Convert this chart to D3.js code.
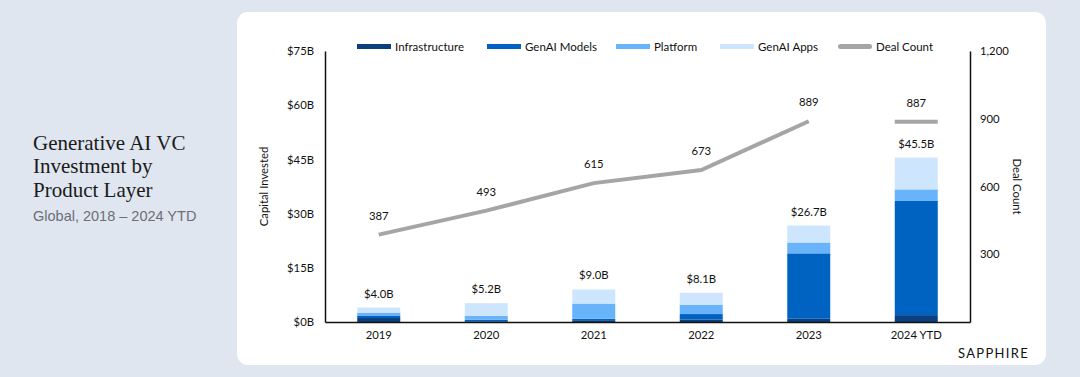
<!DOCTYPE html>
<html>
<head>
<meta charset="utf-8">
<script src="https://cdn.jsdelivr.net/npm/d3@7"></script>
<style>
  html, body { margin: 0; padding: 0; background: #dfe6f0; }
  svg { display: block; }
  .chart text { font-family: Lato, "Noto Sans", sans-serif; fill: #111; }
</style>
</head>
<body>
<svg id="c" width="1080" height="377"></svg>
<script>
const years = ["2019", "2020", "2021", "2022", "2023", "2024 YTD"];
const infrastructure = [1.1, 0.2, 0.5, 0.7, 0.9, 1.9];
const genaiModels = [0.7, 0.4, 0.4, 1.5, 18.1, 31.6];
const platform = [0.8, 1.1, 4.2, 2.6, 3.0, 3.2];
const genaiApps = [1.4, 3.5, 3.9, 3.3, 4.7, 8.8];
const dealCount = [387, 493, 615, 673, 889, 887];
const leftTicks = [0, 15, 30, 45, 60, 75];
const rightTicks = [300, 600, 900, 1200];
const seriesNames = ["Infrastructure", "GenAI Models", "Platform", "GenAI Apps"];
const seriesColors = ["#0b3f7e", "#0063c2", "#69b3fb", "#cde5fd"];

const svg = d3.select("#c");

// card
svg.append("rect").attr("x", 237).attr("y", 12).attr("width", 809).attr("height", 353)
  .attr("rx", 11).attr("fill", "#fff");

// title block
const tg = svg.append("g");
["Generative AI VC", "Investment by", "Product Layer"].forEach((t, i) => {
  tg.append("text").attr("x", 33).attr("y", 150 + i * 23.4).text(t)
    .attr("font-family", "'Liberation Serif', 'DejaVu Serif', serif")
    .attr("font-size", 21).attr("fill", "#1a1a1a");
});
tg.append("text").attr("x", 33).attr("y", 220.5).text("Global, 2018 – 2024 YTD")
  .attr("font-family", "'Liberation Sans', Arial, sans-serif")
  .attr("font-size", 14.5).attr("fill", "#6b6f76");

const g = svg.append("g").attr("class", "chart");
const L = 325, R = 970, T = 51, B = 322;

const x = d3.scaleBand().domain(years).range([L, R]).paddingInner(0.6).paddingOuter(0.3);
const y = d3.scaleLinear().domain([0, 75]).range([B, T]);
const y2 = d3.scaleLinear().domain([0, 1200]).range([B, T]);

const rows = years.map((yr, i) => ({
  year: yr,
  "Infrastructure": infrastructure[i],
  "GenAI Models": genaiModels[i],
  "Platform": platform[i],
  "GenAI Apps": genaiApps[i]
}));
const stack = d3.stack().keys(seriesNames)(rows);

g.selectAll("g.layer").data(stack).join("g").attr("class", "layer")
  .attr("fill", (d, i) => seriesColors[i])
  .selectAll("rect").data(d => d).join("rect")
  .attr("x", d => x(d.data.year))
  .attr("width", x.bandwidth())
  .attr("y", d => y(d[1]))
  .attr("height", d => y(d[0]) - y(d[1]));

// totals
const totals = years.map((yr, i) => infrastructure[i] + genaiModels[i] + platform[i] + genaiApps[i]);
g.selectAll("text.total").data(years).join("text").attr("class", "total")
  .attr("x", d => x(d) + x.bandwidth() / 2)
  .attr("y", (d, i) => y(totals[i]) - 10)
  .attr("text-anchor", "middle").attr("font-size", 11.3)
  .text((d, i) => "$" + d3.format(".1f")(totals[i]) + "B");

// deal count line (2019-2023) and 2024 YTD dash
const cx = d => x(d) + x.bandwidth() / 2;
const lineData = years.slice(0, 5).map((yr, i) => [cx(yr), y2(dealCount[i])]);
g.append("path").attr("d", d3.line()(lineData))
  .attr("fill", "none").attr("stroke", "#a5a5a5").attr("stroke-width", 4);
g.append("line")
  .attr("x1", x(years[5])).attr("x2", x(years[5]) + x.bandwidth())
  .attr("y1", y2(dealCount[5])).attr("y2", y2(dealCount[5]))
  .attr("stroke", "#a5a5a5").attr("stroke-width", 4);
g.selectAll("text.deal").data(years).join("text").attr("class", "deal")
  .attr("x", d => cx(d))
  .attr("y", (d, i) => y2(dealCount[i]) - 15)
  .attr("text-anchor", "middle").attr("font-size", 11.3)
  .text((d, i) => dealCount[i]);

// axes
const axL = g.append("g").attr("transform", `translate(${L},0)`)
  .call(d3.axisLeft(y).tickValues(leftTicks).tickSize(0).tickPadding(11).tickFormat(d => "$" + d + "B"));
const axR = g.append("g").attr("transform", `translate(${R},0)`)
  .call(d3.axisRight(y2).tickValues(rightTicks).tickSize(0).tickPadding(10).tickFormat(d3.format(",")));
const axB = g.append("g").attr("transform", `translate(0,${B})`)
  .call(d3.axisBottom(x).tickSize(0).tickPadding(9));
[axL, axR, axB].forEach(a => {
  a.select(".domain").attr("stroke", "#111").attr("stroke-width", 1.5);
  a.selectAll("text").attr("font-size", 11.3).attr("fill", "#111")
    .attr("font-family", "Lato, 'Noto Sans', sans-serif");
});

// axis titles
g.append("text").attr("transform", `translate(268,${(T + B) / 2}) rotate(-90)`)
  .attr("text-anchor", "middle").attr("font-size", 11.3).text("Capital Invested");
g.append("text").attr("transform", `translate(1013,${(T + B) / 2}) rotate(90)`)
  .attr("text-anchor", "middle").attr("font-size", 11.3).text("Deal Count");

// legend
const legendItems = seriesNames.concat(["Deal Count"]);
const legendColors = seriesColors.concat(["#a5a5a5"]);
const legendX = [357, 487, 616, 720, 838];
const lg = g.append("g");
legendItems.forEach((n, i) => {
  lg.append("rect").attr("x", legendX[i]).attr("y", 44).attr("width", 34).attr("height", 5)
    .attr("fill", legendColors[i]).attr("rx", i === 4 ? 2.5 : 0);
  lg.append("text").attr("x", legendX[i] + 38).attr("y", 50.5).attr("font-size", 11.5).text(n);
});

// brand
g.append("text").attr("x", 1029).attr("y", 358).attr("text-anchor", "end")
  .attr("font-size", 13).attr("letter-spacing", 1.3).attr("fill", "#222")
  .attr("font-family", "'Liberation Sans', Arial, sans-serif").text("SAPPHIRE");
</script>
</body>
</html>
